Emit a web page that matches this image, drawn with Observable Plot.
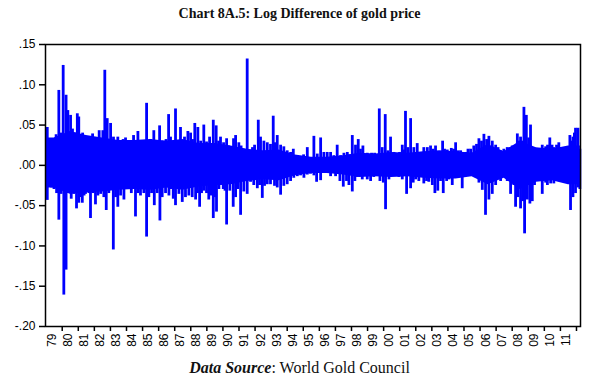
<!DOCTYPE html>
<html><head><meta charset="utf-8">
<script src="https://cdn.jsdelivr.net/npm/d3@7"></script>
<script src="https://cdn.jsdelivr.net/npm/@observablehq/plot@0.6"></script>
<style>
body{margin:0;background:#fff;width:599px;}
#title{height:27px;text-align:center;font:bold 14px "Liberation Serif",serif;line-height:27px;color:#111;}
#chart svg{display:block;}
#cap{text-align:center;font:16px "Liberation Serif",serif;height:28px;line-height:26px;color:#111;}
</style></head><body>
<div id="title">Chart 8A.5: Log Difference of gold price</div>
<div id="chart"></div>
<div id="cap"><b><i>Data Source</i></b>: World Gold Council</div>
<script>
// Upper excursions (decimal year, log difference)
const upYears = [1979.07,1979.27,1979.46,1979.62,1979.79,1979.93,1980.06,1980.24,1980.35,1980.52,1980.64,1980.79,1980.94,1981.03,1981.14,1981.27,1981.41,1981.56,1981.72,1981.89,1982.07,1982.30,1982.53,1982.65,1982.80,1983.01,1983.19,1983.32,1983.46,1983.63,1983.79,1983.94,1984.19,1984.31,1984.44,1984.71,1984.81,1984.94,1985.09,1985.25,1985.37,1985.50,1985.70,1985.87,1986.06,1986.18,1986.31,1986.46,1986.62,1986.74,1986.87,1987.05,1987.21,1987.36,1987.49,1987.61,1987.82,1987.99,1988.11,1988.25,1988.44,1988.61,1988.81,1988.98,1989.17,1989.40,1989.58,1989.73,1989.85,1990.04,1990.23,1990.35,1990.47,1990.66,1990.79,1990.99,1991.13,1991.28,1991.51,1991.72,1991.84,1991.97,1992.20,1992.34,1992.55,1992.76,1992.96,1993.13,1993.24,1993.38,1993.59,1993.79,1994.00,1994.21,1994.38,1994.63,1994.87,1995.02,1995.25,1995.45,1995.66,1995.87,1996.08,1996.28,1996.49,1996.70,1996.90,1997.11,1997.32,1997.53,1997.74,1997.88,1998.05,1998.25,1998.42,1998.56,1998.71,1998.98,1999.25,1999.44,1999.59,1999.73,1999.91,2000.10,2000.26,2000.43,2000.64,2000.85,2000.99,2001.16,2001.26,2001.36,2001.51,2001.68,2001.88,2002.09,2002.30,2002.50,2002.72,2002.92,2003.08,2003.23,2003.44,2003.67,2003.79,2003.96,2004.21,2004.35,2004.48,2004.63,2004.79,2004.94,2005.10,2005.25,2005.41,2005.61,2005.78,2005.93,2006.09,2006.24,2006.41,2006.55,2006.76,2006.97,2007.12,2007.28,2007.48,2007.69,2007.84,2008.00,2008.15,2008.32,2008.43,2008.52,2008.65,2008.73,2008.88,2009.02,2009.14,2009.35,2009.52,2009.66,2009.87,2010.08,2010.20,2010.34,2010.48,2010.59,2010.76,2010.90,2011.07,2011.22,2011.43,2011.59,2011.69,2011.78,2011.87,2011.94,2012.09,2012.21];
const upValues = [0.047,0.030,0.033,0.038,0.093,0.040,0.124,0.087,0.068,0.062,0.045,0.040,0.064,0.060,0.035,0.040,0.032,0.035,0.030,0.039,0.030,0.043,0.043,0.118,0.058,0.052,0.035,0.030,0.035,0.028,0.032,0.034,0.030,0.027,0.037,0.042,0.028,0.030,0.028,0.077,0.028,0.032,0.043,0.030,0.049,0.030,0.030,0.032,0.063,0.035,0.030,0.070,0.030,0.047,0.030,0.035,0.042,0.040,0.032,0.052,0.047,0.030,0.050,0.029,0.035,0.056,0.049,0.030,0.035,0.028,0.033,0.024,0.021,0.033,0.037,0.028,0.024,0.020,0.132,0.018,0.022,0.025,0.056,0.035,0.030,0.028,0.026,0.061,0.028,0.037,0.025,0.023,0.018,0.016,0.020,0.012,0.009,0.013,0.022,0.009,0.036,0.014,0.034,0.016,0.016,0.016,0.012,0.025,0.012,0.015,0.016,0.013,0.037,0.025,0.032,0.020,0.024,0.015,0.015,0.015,0.012,0.070,0.022,0.063,0.018,0.035,0.016,0.013,0.016,0.025,0.019,0.067,0.022,0.058,0.022,0.027,0.016,0.022,0.022,0.024,0.020,0.024,0.014,0.030,0.020,0.019,0.021,0.020,0.028,0.018,0.018,0.016,0.016,0.020,0.020,0.024,0.026,0.033,0.030,0.0385,0.032,0.036,0.030,0.025,0.022,0.018,0.020,0.022,0.022,0.024,0.024,0.039,0.030,0.035,0.030,0.072,0.062,0.034,0.050,0.022,0.020,0.018,0.025,0.023,0.025,0.034,0.025,0.022,0.025,0.028,0.022,0.018,0.022,0.037,0.030,0.035,0.040,0.046,0.046,0.020];

// Lower excursions
const downYears = [1979.07,1979.17,1979.34,1979.49,1979.65,1979.79,1979.93,1980.10,1980.24,1980.31,1980.41,1980.56,1980.72,1980.89,1981.03,1981.14,1981.25,1981.36,1981.45,1981.66,1981.76,1981.91,1982.07,1982.22,1982.39,1982.59,1982.74,1982.90,1983.04,1983.18,1983.32,1983.46,1983.63,1983.84,1983.97,1984.11,1984.30,1984.44,1984.56,1984.71,1984.87,1985.08,1985.25,1985.39,1985.56,1985.73,1985.91,1986.08,1986.22,1986.43,1986.64,1986.77,1986.91,1987.05,1987.26,1987.47,1987.67,1987.88,1988.09,1988.30,1988.42,1988.55,1988.67,1988.81,1988.98,1989.12,1989.27,1989.40,1989.50,1989.60,1989.75,1989.85,1990.02,1990.13,1990.23,1990.43,1990.64,1990.79,1990.93,1991.10,1991.30,1991.51,1991.72,1991.92,1992.14,1992.28,1992.45,1992.59,1992.76,1992.96,1993.21,1993.38,1993.59,1993.79,1994.00,1994.21,1994.41,1994.63,1994.83,1995.04,1995.25,1995.45,1995.66,1995.83,1996.08,1996.39,1996.59,1996.70,1997.01,1997.28,1997.49,1997.69,1997.84,1998.05,1998.21,1998.36,1998.67,1998.98,1999.19,1999.39,1999.50,1999.77,1999.98,2000.12,2000.33,2000.43,2000.74,2000.95,2001.16,2001.43,2001.68,2001.84,2001.99,2002.19,2002.30,2002.50,2002.67,2002.81,2003.03,2003.19,2003.37,2003.54,2003.71,2003.92,2004.06,2004.27,2004.37,2004.58,2004.89,2005.20,2005.52,2005.72,2005.93,2006.14,2006.34,2006.55,2006.76,2006.97,2007.28,2007.48,2007.69,2007.90,2008.10,2008.21,2008.35,2008.52,2008.65,2008.77,2008.94,2009.10,2009.25,2009.39,2009.56,2009.70,2009.87,2010.08,2010.19,2010.39,2010.59,2010.80,2011.01,2011.32,2011.46,2011.63,2011.78,2011.94,2012.09,2012.21];
const downValues = [-0.0435,-0.023,-0.028,-0.030,-0.035,-0.068,-0.036,-0.161,-0.130,-0.035,-0.032,-0.042,-0.036,-0.054,-0.047,-0.040,-0.047,-0.038,-0.036,-0.035,-0.066,-0.035,-0.049,-0.038,-0.036,-0.040,-0.056,-0.035,-0.030,-0.105,-0.040,-0.052,-0.038,-0.043,-0.030,-0.030,-0.035,-0.030,-0.064,-0.035,-0.038,-0.035,-0.089,-0.040,-0.035,-0.050,-0.035,-0.069,-0.040,-0.035,-0.038,-0.030,-0.042,-0.050,-0.036,-0.046,-0.040,-0.038,-0.040,-0.043,-0.035,-0.052,-0.035,-0.032,-0.035,-0.043,-0.038,-0.066,-0.040,-0.058,-0.030,-0.025,-0.030,-0.032,-0.074,-0.032,-0.052,-0.040,-0.030,-0.062,-0.033,-0.036,-0.021,-0.025,-0.029,-0.025,-0.041,-0.026,-0.024,-0.024,-0.026,-0.028,-0.037,-0.026,-0.024,-0.020,-0.016,-0.014,-0.013,-0.016,-0.012,-0.011,-0.013,-0.021,-0.019,-0.010,-0.010,-0.014,-0.014,-0.020,-0.027,-0.020,-0.025,-0.033,-0.020,-0.015,-0.018,-0.018,-0.020,-0.015,-0.013,-0.020,-0.022,-0.055,-0.018,-0.013,-0.011,-0.015,-0.018,-0.036,-0.029,-0.022,-0.018,-0.020,-0.013,-0.023,-0.020,-0.021,-0.025,-0.035,-0.032,-0.020,-0.035,-0.020,-0.018,-0.025,-0.015,-0.015,-0.029,-0.010,-0.012,-0.015,-0.022,-0.031,-0.062,-0.043,-0.036,-0.025,-0.020,-0.012,-0.020,-0.036,-0.025,-0.052,-0.040,-0.054,-0.045,-0.085,-0.043,-0.048,-0.045,-0.025,-0.012,-0.020,-0.036,-0.022,-0.025,-0.023,-0.023,-0.020,-0.020,-0.015,-0.022,-0.056,-0.040,-0.035,-0.028,-0.030];

// Dense core of the series (typical daily range around zero)
const coreYears = [1978.97,1979.5,1980.5,1981.5,1982.5,1983.5,1984.5,1985.5,1986.5,1987.5,1988.5,1989.5,1990.5,1991.5,1992.5,1993.5,1994.5,1995.5,1996.5,1997.5,1998.5,1999.5,2000.5,2001.5,2002.5,2003.5,2004.5,2005.5,2006.5,2007.5,2008.5,2009.5,2010.5,2011.5,2012.24];
const coreHigh = [0.034,0.034,0.042,0.037,0.034,0.031,0.031,0.032,0.030,0.032,0.027,0.027,0.024,0.020,0.018,0.019,0.013,0.010,0.010,0.012,0.015,0.014,0.016,0.015,0.017,0.018,0.017,0.015,0.026,0.017,0.030,0.022,0.020,0.024,0.024];
const coreLow = [-0.028,-0.028,-0.036,-0.034,-0.033,-0.031,-0.030,-0.031,-0.028,-0.031,-0.027,-0.025,-0.024,-0.020,-0.018,-0.019,-0.013,-0.010,-0.010,-0.012,-0.015,-0.014,-0.015,-0.014,-0.016,-0.017,-0.017,-0.014,-0.024,-0.016,-0.030,-0.021,-0.019,-0.024,-0.024];

// Axes
const yTicks = [-0.20,-0.15,-0.10,-0.05,0.00,0.05,0.10,0.15];
const tickYears = [1980,1981,1982,1983,1984,1985,1986,1987,1988,1989,1990,1991,1992,1993,1994,1995,1996,1997,1998,1999,2000,2001,2002,2003,2004,2005,2006,2007,2008,2009,2010,2011,2012];
const labelYears = [1979,1980,1981,1982,1983,1984,1985,1986,1987,1988,1989,1990,1991,1992,1993,1994,1995,1996,1997,1998,1999,2000,2001,2002,2003,2004,2005,2006,2007,2008,2009,2010,2011];
const labelText = ["79","80","81","82","83","84","85","86","87","88","89","90","91","92","93","94","95","96","97","98","99","00","01","02","03","04","05","06","07","08","09","10","11"];

const up = upYears.map((x, i) => ({year: x, v: upValues[i]}));
const down = downYears.map((x, i) => ({year: x, v: downValues[i]}));
const core = coreYears.map((x, i) => ({year: x, hi: coreHigh[i], lo: coreLow[i]}));
const labels = labelYears.map((x, i) => ({year: x, text: labelText[i]}));
const fmt = v => v.toFixed(2).replace("0.", ".");
const blue = "#0000ff";

const chart = Plot.plot({
  width: 599, height: 328,
  marginLeft: 45, marginRight: 19, marginTop: 17, marginBottom: 29,
  x: {domain: [1978.96, 2012.25]},
  y: {domain: [-0.2, 0.15]},
  style: {fontFamily: "'Liberation Sans', Arial, sans-serif", fontSize: "12px", color: "#000", background: "#fff"},
  marks: [
    Plot.areaY(core, {x: "year", y1: "lo", y2: "hi", fill: blue}),
    Plot.ruleX(up, {x: "year", y1: 0, y2: "v", stroke: blue, strokeWidth: 2.8}),
    Plot.ruleX(down, {x: "year", y1: 0, y2: "v", stroke: blue, strokeWidth: 2.8}),
    Plot.axisY({ticks: yTicks, tickFormat: fmt, tickSize: 6, tickPadding: 4, label: null, strokeWidth: 1.5}),
    Plot.axisX({ticks: tickYears, tickFormat: () => "", tickSize: 5, label: null, strokeWidth: 1.5}),
    Plot.text(labels, {x: d => d.year + 0.35, y: () => -0.2, text: "text", rotate: -90, textAnchor: "end", dy: 7, fontSize: 12, fill: "#000"}),
    Plot.frame({stroke: "#000", strokeWidth: 1.5})
  ]
});
document.getElementById("chart").appendChild(chart);
</script>
</body></html>
